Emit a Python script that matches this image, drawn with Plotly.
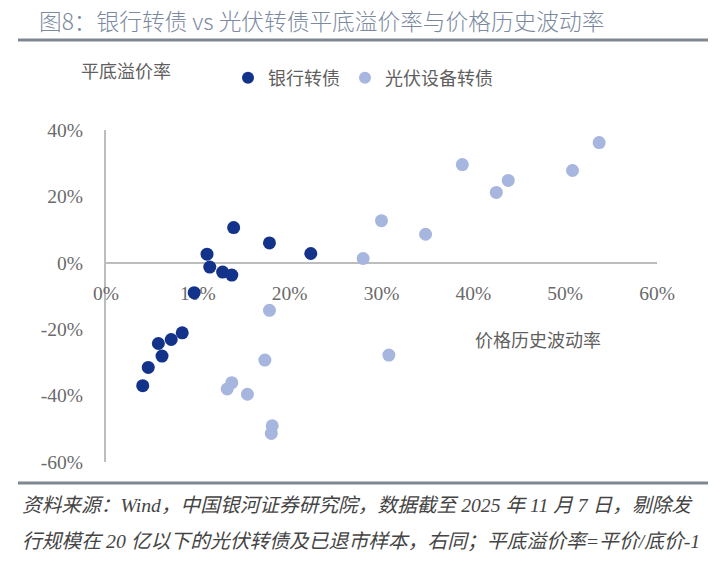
import plotly.graph_objects as go

# ---------------- data ----------------
bank_vol = [13.9, 17.8, 22.3, 11.0, 11.3, 12.7, 13.7, 9.6, 8.3, 7.1, 5.7, 6.1, 4.6, 4.0]
bank_prem = [10.6, 6.0, 2.8, 2.6, -1.3, -2.8, -3.7, -9.0, -21.1, -23.1, -24.3, -28.1, -31.5, -37.0]

pv_vol = [53.7, 38.8, 50.8, 43.8, 42.5, 30.0, 34.8, 28.0, 30.8, 17.8, 17.3, 13.7, 13.2, 15.4, 18.1, 18.0]
pv_prem = [36.2, 29.6, 27.8, 24.8, 21.2, 12.7, 8.6, 1.3, -27.8, -14.3, -29.3, -36.1, -38.0, -39.6, -49.1, -51.4]

series_names = ["银行转债", "光伏设备转债"]
x_tickvals = [0, 10, 20, 30, 40, 50, 60]
x_ticktext = ["0%", "10%", "20%", "30%", "40%", "50%", "60%"]
y_tickvals = [-60, -40, -20, 0, 20, 40]
y_ticktext = ["-60%", "-40%", "-20%", "0%", "20%", "40%"]

title_text = "图8：银行转债 vs 光伏转债平底溢价率与价格历史波动率"
y_title = "平底溢价率"
x_title = "价格历史波动率"
footer1 = "资料来源：Wind，中国银河证券研究院，数据截至 2025 年 11 月 7 日，剔除发"
footer2 = "行规模在 20 亿以下的光伏转债及已退市样本，右同；平底溢价率=平价/底价-1"

# ---------------- layout helpers ----------------
W, H = 715, 587
ML, MR, MT, MB = 106, 58, 130, 125
PW, PH = W - ML - MR, H - MT - MB


def px(x):
    return (x - ML) / PW


def py(y):
    return (H - MB - y) / PH


DARK = "#13328a"
LIGHT = "#a7b6de"
GREY_TXT = "#5f5f5f"
CJK = "Noto Sans CJK SC"
SERIF = "Liberation Serif"

fig = go.Figure()
fig.add_trace(go.Scatter(
    x=pv_vol, y=pv_prem, mode="markers", name=series_names[1],
    marker=dict(color=LIGHT, size=13), legendrank=2,
))
fig.add_trace(go.Scatter(
    x=bank_vol, y=bank_prem, mode="markers", name=series_names[0],
    marker=dict(color=DARK, size=13), legendrank=1,
))

y_lo, y_hi = y_tickvals[0], y_tickvals[-1]
zero_pos = (0 - y_lo) / (y_hi - y_lo)

fig.update_layout(
    width=W, height=H,
    margin=dict(l=ML, r=MR, t=MT, b=MB),
    paper_bgcolor="white", plot_bgcolor="white",
    font=dict(family=CJK, color=GREY_TXT),
    showlegend=True,
    legend=dict(
        orientation="h", x=px(228), y=py(78), xanchor="left", yanchor="middle",
        font=dict(family=CJK, size=18, color=GREY_TXT),
        itemsizing="constant", traceorder="normal", bgcolor="rgba(0,0,0,0)",
    ),
    xaxis=dict(
        range=[x_tickvals[0], x_tickvals[-1]], tickvals=x_tickvals, ticktext=x_ticktext,
        showgrid=False, zeroline=False, showline=True, linecolor="#bdbdbd", linewidth=2,
        anchor="free", position=zero_pos, ticks="", ticklabelstandoff=13,
        tickfont=dict(family=SERIF, size=19.5, color="#6a6a6a"), layer="below traces",
    ),
    yaxis=dict(
        range=[y_lo, y_hi], tickvals=y_tickvals, ticktext=y_ticktext,
        showgrid=False, zeroline=False, showline=True, linecolor="#bdbdbd", linewidth=2,
        ticks="", ticklabelstandoff=17,
        tickfont=dict(family=SERIF, size=19.5, color="#6a6a6a"), layer="below traces",
    ),
)

annotations = [
    dict(text=title_text, x=px(37), y=py(21), xanchor="left", yanchor="middle",
         font=dict(family=CJK, size=22.7, color="#7b8aa0", weight=300)),
    dict(text=y_title, x=px(79), y=py(70), xanchor="left", yanchor="middle",
         font=dict(family=CJK, size=18, color=GREY_TXT)),
    dict(text=x_title, x=px(473), y=py(339), xanchor="left", yanchor="middle",
         font=dict(family=CJK, size=18, color=GREY_TXT)),
    dict(text=footer1, x=px(20), y=py(505), xanchor="left", yanchor="middle",
         font=dict(family=SERIF + ", " + CJK, size=19.7, color="#444444", style="italic")),
    dict(text=footer2, x=px(20), y=py(541), xanchor="left", yanchor="middle",
         font=dict(family=SERIF + ", " + CJK, size=19.8, color="#444444", style="italic")),
]
for a in annotations:
    a.update(xref="paper", yref="paper", showarrow=False)
fig.update_layout(annotations=annotations)

fig.update_layout(shapes=[
    dict(type="line", xref="paper", yref="paper", x0=px(18), x1=px(708), y0=py(40), y1=py(40),
         line=dict(color="#7e8893", width=3)),
    dict(type="line", xref="paper", yref="paper", x0=px(18), x1=px(708), y0=py(483), y1=py(483),
         line=dict(color="#7e8893", width=3)),
])

fig.write_html("out.html")
